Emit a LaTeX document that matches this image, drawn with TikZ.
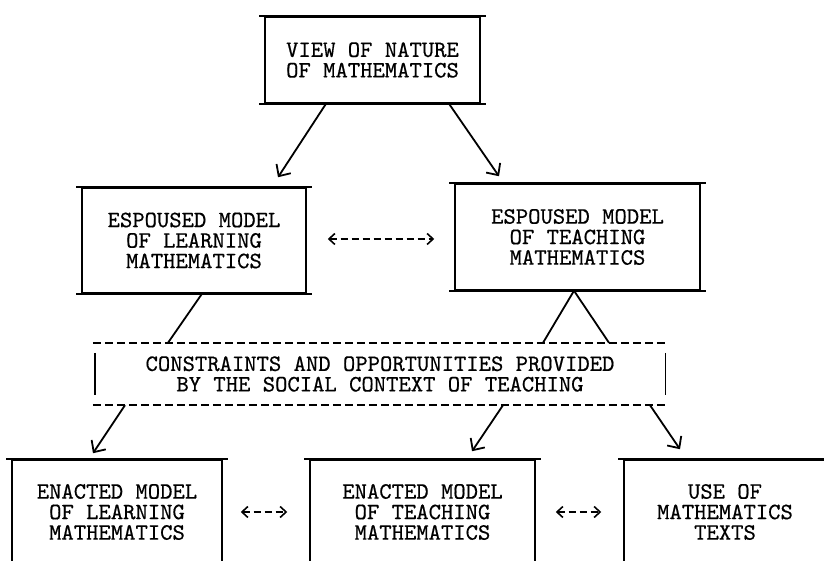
\documentclass[tikz,border=0pt]{standalone}
\usepackage{fontspec}
\setmonofont{lmmono10-regular.otf}[FakeBold=0.5]
\usetikzlibrary{arrows.meta}

\begin{document}
\begin{tikzpicture}[
    x=1pt, y=1pt,
    every node/.style={font=\ttfamily\fontsize{23.5}{20.5}\selectfont, align=center, inner sep=0pt},
    rule/.style={-, line width=1.9pt},
    cut/.style={-, line width=1.8pt, dash pattern=on 8pt off 4pt},
    bar/.style={-, line width=1.4pt},
    box/.style={draw, line width=1.5pt,
      append after command={
        ([xshift=-5pt]\tikzlastnode.north west) edge[rule] ([xshift=5pt]\tikzlastnode.north east)
        ([xshift=-5pt]\tikzlastnode.south west) edge[rule] ([xshift=5pt]\tikzlastnode.south east)}},
    ctxbox/.style={
      append after command={
        ([xshift=-2pt]\tikzlastnode.north west) edge[cut] ([xshift=2pt]\tikzlastnode.north east)
        ([xshift=-2pt]\tikzlastnode.south west) edge[cut] ([xshift=2pt]\tikzlastnode.south east)
        ([yshift=-10pt]\tikzlastnode.north west) edge[bar] ([yshift=10pt]\tikzlastnode.south west)
        ([yshift=-10pt]\tikzlastnode.north east) edge[bar] ([yshift=10pt]\tikzlastnode.south east)}},
    flow/.style={-{Straight Barb[length=9pt,width=17pt]}, line width=1.8pt},
    link/.style={line width=1.8pt},
    twoway/.style={{Straight Barb[length=6pt,width=11pt]}-{Straight Barb[length=6pt,width=11pt]}, line width=1.6pt, dash pattern=on 7pt off 4pt}
]
\useasboundingbox (0,0) rectangle (824,561);
\clip (0,0) rectangle (824,561);

% top
\node[box, minimum width=215pt, minimum height=86pt] (nature) at (372.5,501) {VIEW OF NATURE\\OF MATHEMATICS};

% espoused models
\node[box, minimum width=224pt, minimum height=105pt] (learnesp) at (194,320.5) {ESPOUSED MODEL\\OF LEARNING\\MATHEMATICS};
\node[box, minimum width=245pt, minimum height=106pt] (teachesp) at (577.5,324) {ESPOUSED MODEL\\OF TEACHING\\MATHEMATICS};

% social context
\node[ctxbox, minimum width=570pt, minimum height=62pt] (context) at (380,187) {CONSTRAINTS AND OPPORTUNITIES PROVIDED\\BY THE SOCIAL CONTEXT OF TEACHING};

% enacted models
\node[box, minimum width=210pt, minimum height=104pt] (learnact) at (117,49) {ENACTED MODEL\\OF LEARNING\\MATHEMATICS};
\node[box, minimum width=225pt, minimum height=104pt] (teachact) at (422.5,49) {ENACTED MODEL\\OF TEACHING\\MATHEMATICS};
\node[box, minimum width=202pt, minimum height=104pt] (texts) at (725,49) {USE OF\\MATHEMATICS\\TEXTS};

\draw[flow] ([xshift=-46.5pt]nature.south) -- ([xshift=84pt,yshift=10pt]learnesp.north);
\draw[flow] ([xshift=76.5pt]nature.south) -- ([xshift=-78.5pt,yshift=7pt]teachesp.north);
\draw[twoway] ([xshift=21pt,yshift=1.5pt]learnesp.east) -- ([xshift=-20pt,yshift=-2pt]teachesp.west);

\draw[link] ([xshift=8pt]learnesp.south) -- ([xshift=-212pt]context.north);
\draw[link] ([xshift=163pt]context.north) -- ([xshift=-3.5pt]teachesp.south) -- ([xshift=229pt]context.north);

\draw[flow] ([xshift=-255pt]context.south) -- ([xshift=-24pt,yshift=6pt]learnact.north);
\draw[flow] ([xshift=123pt]context.south) -- ([xshift=49.5pt,yshift=8pt]teachact.north);
\draw[flow] ([xshift=270pt]context.south) -- ([xshift=-45pt,yshift=10pt]texts.north);
\draw[twoway] ([xshift=18pt]learnact.east) -- ([xshift=-22pt]teachact.west);
\draw[twoway] ([xshift=20pt]teachact.east) -- ([xshift=-22pt]texts.west);
\end{tikzpicture}
\end{document}
